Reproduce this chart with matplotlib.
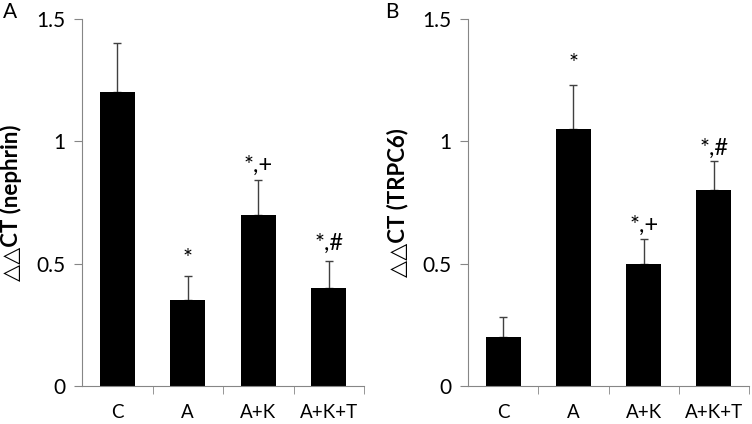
import matplotlib
matplotlib.use("Agg")
import matplotlib.pyplot as plt
import numpy as np

categories = ["C", "A", "A+K", "A+K+T"]
nephrin_vals = [1.2, 0.35, 0.7, 0.4]
nephrin_err = [0.2, 0.1, 0.14, 0.11]
nephrin_marks = ["", "*", "*,+", "*,#"]
nephrin_mark_y = [None, 0.52, 0.90, 0.585]
trpc6_vals = [0.2, 1.05, 0.5, 0.8]
trpc6_err = [0.08, 0.18, 0.1, 0.12]
trpc6_marks = ["", "*", "*,+", "*,#"]
trpc6_mark_y = [None, 1.32, 0.655, 0.97]
yticks = [0, 0.5, 1, 1.5]
yticklabels = ["0", "0.5", "1", "1.5"]

plt.rcParams['font.family'] = ['Lato', 'DejaVu Sans']
W, H = 752, 424
fig = plt.figure(figsize=(W/100, H/100), dpi=100)

def panel(rect, vals, errs, marks, mark_y, ylabel, letter, letter_x):
    ax = fig.add_axes(rect)
    x = np.arange(len(categories))
    ax.bar(x, vals, width=0.5, color="black", zorder=2)
    ax.errorbar(x, vals, yerr=[np.zeros(len(errs)), errs], fmt="none",
                ecolor="#404040", elinewidth=1, capsize=3, capthick=1, zorder=1)
    for xi, m, my in zip(x, marks, mark_y):
        if m:
            ax.text(xi, my, m, ha="center", va="center", fontsize=17, color="black")
    ax.set_xlim(-0.5, len(categories) - 0.5)
    ax.set_ylim(0, 1.5)
    ax.set_yticks(yticks)
    ax.set_yticklabels(yticklabels, fontsize=15)
    ax.set_xticks(x)
    ax.set_xticklabels(categories, fontsize=13.5)
    ax.set_xticks(np.arange(len(categories)) + 0.5, minor=True)
    ax.tick_params(axis="x", which="major", length=0, pad=13)
    ax.tick_params(axis="x", which="minor", length=6, direction="out", color="#868686")
    ax.tick_params(axis="y", length=6, direction="out", color="#868686", pad=6)
    for s in ["top", "right"]:
        ax.spines[s].set_visible(False)
    for s in ["left", "bottom"]:
        ax.spines[s].set_color("#868686")
    ax.set_ylabel(ylabel, fontsize=16, fontweight="bold", labelpad=10)
    fig.text(letter_x, 1 - 12/H, letter, fontsize=15, ha="left", va="center")
    return ax

panel([82/W, 1 - 386/H, (364-82)/W, (386-19)/H], nephrin_vals, nephrin_err,
      nephrin_marks, nephrin_mark_y, "△△CT (nephrin)", "A", 3/W)
panel([468/W, 1 - 386/H, (749-468)/W, (386-19)/H], trpc6_vals, trpc6_err,
      trpc6_marks, trpc6_mark_y, "△△CT (TRPC6)", "B", 385/W)

fig.savefig("out.png", dpi=100)
